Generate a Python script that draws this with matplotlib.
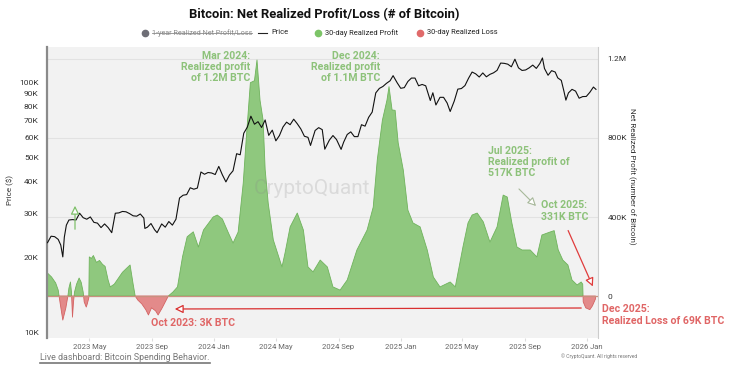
import matplotlib
matplotlib.use("Agg")
import matplotlib.pyplot as plt
import numpy as np
import pandas as pd

plt.rcParams['font.family'] = ['Roboto', 'DejaVu Sans']

# ---------------- DATA ----------------
price_dates = [
 "2023-02-08","2023-02-15","2023-02-22","2023-03-01","2023-03-06","2023-03-10","2023-03-13","2023-03-17",
 "2023-03-22","2023-03-29","2023-04-05","2023-04-12","2023-04-19","2023-04-26","2023-05-03","2023-05-10",
 "2023-05-17","2023-05-24","2023-05-31","2023-06-07","2023-06-14","2023-06-21","2023-06-28","2023-07-05",
 "2023-07-12","2023-07-19","2023-07-26","2023-08-02","2023-08-09","2023-08-16","2023-08-18","2023-08-23",
 "2023-08-30","2023-09-06","2023-09-11","2023-09-20","2023-09-27","2023-10-04","2023-10-11","2023-10-18",
 "2023-10-25","2023-11-01","2023-11-08","2023-11-15","2023-11-22","2023-11-29","2023-12-06","2023-12-13",
 "2023-12-20","2023-12-27","2024-01-03","2024-01-10","2024-01-17","2024-01-24","2024-01-31","2024-02-07",
 "2024-02-14","2024-02-21","2024-02-28","2024-03-06","2024-03-13","2024-03-20","2024-03-27","2024-04-03",
 "2024-04-10","2024-04-17","2024-04-24","2024-05-01","2024-05-08","2024-05-15","2024-05-22","2024-05-29",
 "2024-06-05","2024-06-12","2024-06-19","2024-06-26","2024-07-03","2024-07-08","2024-07-17","2024-07-24",
 "2024-07-31","2024-08-05","2024-08-14","2024-08-21","2024-08-28","2024-09-06","2024-09-11","2024-09-18",
 "2024-09-25","2024-10-02","2024-10-09","2024-10-16","2024-10-23","2024-10-30","2024-11-06","2024-11-13",
 "2024-11-20","2024-11-27","2024-12-04","2024-12-11","2024-12-17","2024-12-25","2025-01-01","2025-01-08",
 "2025-01-15","2025-01-22","2025-01-29","2025-02-05","2025-02-12","2025-02-19","2025-02-28","2025-03-05",
 "2025-03-11","2025-03-19","2025-03-26","2025-04-02","2025-04-08","2025-04-16","2025-04-23","2025-04-30",
 "2025-05-07","2025-05-14","2025-05-21","2025-05-28","2025-06-04","2025-06-11","2025-06-18","2025-06-25",
 "2025-07-02","2025-07-09","2025-07-16","2025-07-23","2025-07-30","2025-08-06","2025-08-13","2025-08-20",
 "2025-08-27","2025-09-03","2025-09-10","2025-09-17","2025-09-24","2025-10-01","2025-10-06","2025-10-10",
 "2025-10-17","2025-10-24","2025-10-31","2025-11-05","2025-11-12","2025-11-17","2025-11-21","2025-11-26",
 "2025-12-03","2025-12-10","2025-12-17","2025-12-24","2025-12-31","2026-01-07","2026-01-14","2026-01-19",
]
price_values = [  # USD
 22900,24300,24200,23600,22400,20100,24100,26900,
 28200,28300,28200,30000,28800,28400,29000,27600,
 27400,26300,27200,26300,25100,30000,30100,30500,
 30400,29900,29300,29200,29800,28700,26100,26400,
 27300,25800,25100,27200,26400,27800,26900,28400,
 34500,35400,35600,37900,37400,37800,43800,42900,
 43600,43400,42800,46100,42700,40000,42600,44300,
 51800,51300,62500,66100,73100,67900,69500,65900,
 70600,61300,64300,58300,61200,66200,69200,67600,
 71100,68200,65000,60800,60200,55900,64100,65800,
 64600,54000,58700,61200,59000,53900,57600,61800,
 63300,60600,60600,67600,66700,72300,75900,90500,
 94300,96000,98800,101100,106000,99300,94400,95000,
 100500,103700,103700,96600,97800,96600,84400,90600,
 81000,86900,86900,82500,76300,84000,93700,94200,
 96800,103500,109600,107800,104700,108700,104900,107300,
 108800,111300,119000,118700,117800,115000,123300,113900,
 111200,111700,113900,116800,113300,118600,124700,113200,
 106400,111000,109600,103900,101500,92200,84700,90500,
 93500,92000,86200,87500,87600,91000,95500,93500,
]

net_dates = [
 "2023-02-08","2023-02-16","2023-02-24","2023-03-01","2023-03-05","2023-03-10","2023-03-16","2023-03-20",
 "2023-03-22","2023-03-25","2023-03-27","2023-03-29","2023-03-31","2023-04-02","2023-04-06","2023-04-11",
 "2023-04-15","2023-04-19","2023-04-21","2023-04-25","2023-04-27","2023-04-30","2023-05-01","2023-05-05",
 "2023-05-09","2023-05-15","2023-05-21","2023-05-27","2023-06-01","2023-06-07","2023-06-11","2023-06-19",
 "2023-06-27","2023-07-05","2023-07-13","2023-07-20","2023-07-26","2023-07-30","2023-08-04","2023-08-12",
 "2023-08-20","2023-08-25","2023-08-31","2023-09-08","2023-09-13","2023-09-21","2023-09-29","2023-10-03",
 "2023-10-12","2023-10-21","2023-10-31","2023-11-09","2023-11-21","2023-12-01","2023-12-11","2023-12-30",
 "2024-01-07","2024-01-17","2024-01-29","2024-02-07","2024-02-17","2024-02-27","2024-03-04","2024-03-12",
 "2024-03-20","2024-03-25","2024-03-31","2024-04-06","2024-04-10","2024-04-16","2024-04-26","2024-05-13",
 "2024-05-19","2024-05-29","2024-06-12","2024-06-24","2024-07-03","2024-07-13","2024-07-27","2024-08-10",
 "2024-08-21","2024-09-04","2024-09-18","2024-10-07","2024-10-27","2024-11-08","2024-11-16","2024-11-26",
 "2024-12-05","2024-12-09","2024-12-15","2024-12-21","2024-12-27","2025-01-06","2025-01-15","2025-01-25",
 "2025-02-08","2025-02-22","2025-03-06","2025-03-19","2025-04-08","2025-04-18","2025-05-03","2025-05-13",
 "2025-05-21","2025-05-31","2025-06-12","2025-06-25","2025-07-09","2025-07-21","2025-07-29","2025-08-07",
 "2025-08-17","2025-08-27","2025-09-12","2025-09-25","2025-10-05","2025-10-21","2025-10-29","2025-11-06",
 "2025-11-15","2025-11-25","2025-12-03","2025-12-13","2025-12-21","2025-12-24","2025-12-25","2025-12-30",
 "2026-01-07","2026-01-12","2026-01-18",
]
net_values = [  # BTC, 30-day net realized profit (+) / loss (-)
 116000,96000,66000,30000,-40000,-122000,-60000,0,
 40000,71000,20000,-107000,-30000,20000,60000,91000,
 70000,20000,-30000,-56000,-40000,-10000,198000,190000,
 205000,170000,180000,160000,150000,80000,46000,60000,
 90000,120000,140000,157000,60000,0,-20000,-40000,
 -70000,-96000,-60000,-75000,-96000,-60000,-20000,0,
 20000,46000,200000,300000,325000,248000,334000,400000,
 410000,390000,319000,268000,324000,572000,800000,1080000,
 1090000,1195000,990000,890000,640000,470000,284000,147000,
 218000,350000,420000,334000,147000,122000,182000,147000,
 46000,30000,81000,233000,334000,450000,690000,890000,
 992000,1060000,942000,940000,775000,638000,435000,370000,
 350000,233000,96000,46000,71000,46000,248000,370000,
 410000,420000,375000,273000,350000,511000,501000,370000,
 248000,233000,233000,198000,309000,324000,331000,233000,
 182000,157000,81000,56000,71000,60000,-30000,-60000,
 -69000,-50000,-15000,
]

left_ticks = [10000, 20000, 30000, 40000, 50000, 60000, 70000, 80000, 90000, 100000]
left_labels = ["10K", "20K", "30K", "40K", "50K", "60K", "70K", "80K", "90K", "100K"]
right_ticks = [0, 400000, 800000, 1200000]
right_labels = ["0", "400K", "800K", "1.2M"]
x_ticks = ["2023-05-01","2023-09-01","2024-01-01","2024-05-01","2024-09-01",
           "2025-01-01","2025-05-01","2025-09-01","2026-01-01"]
x_labels = ["2023 May","2023 Sep","2024 Jan","2024 May","2024 Sep",
            "2025 Jan","2025 May","2025 Sep","2026 Jan"]

# ---------------- FIGURE ----------------
W, H = 745, 371
fig = plt.figure(figsize=(W/100, H/100), dpi=100)
fig.patch.set_facecolor("white")

L, R, T, B = 47, 598, 47, 338
rect = [L/W, (H-B)/H, (R-L)/W, (B-T)/H]
ax2 = fig.add_axes(rect)              # net realized profit/loss (right axis)
ax = fig.add_axes(rect, sharex=ax2)   # price (left axis, log)
ax.set_zorder(ax2.get_zorder() + 1)
ax.patch.set_visible(False)

pdates = pd.to_datetime(price_dates)
ndates = pd.to_datetime(net_dates)
nvals = np.array(net_values, dtype=float)

ax2.set_facecolor("#f2f2f2")
ax2.fill_between(ndates, 0, nvals, where=nvals >= 0, interpolate=True,
                 facecolor="#8fc87e", edgecolor="#6fb35c", linewidth=0.6, zorder=2)
ax2.fill_between(ndates, 0, nvals, where=nvals <= 0, interpolate=True,
                 facecolor="#e38a8a", edgecolor="#d46262", linewidth=0.6, zorder=2)
ax2.axhline(0, color="#c9907f", lw=0.9, zorder=3)
ax2.set_ylim(-212600, 1260700)
ax2.set_yticks(right_ticks)
ax2.set_yticklabels(right_labels)
ax2.yaxis.tick_right()
ax2.grid(axis="y", color="#e2e2e2", lw=0.8, zorder=0)
ax2.set_axisbelow(True)
ax2.tick_params(axis="y", length=0, pad=7, labelsize=6, labelcolor="#333333")

ax.plot(pdates, price_values, color="#111111", lw=0.8, zorder=5)
ax.set_yscale("log")
ax.set_ylim(9550, 137900)
ax.set_yticks(left_ticks)
ax.set_yticklabels(left_labels)
ax.yaxis.set_minor_locator(matplotlib.ticker.NullLocator())
ax.tick_params(axis="y", length=0, pad=6, labelsize=6, labelcolor="#333333")

ax.set_xlim(pd.Timestamp("2023-02-07"), pd.Timestamp("2026-01-23"))
ax2.set_xticks(pd.to_datetime(x_ticks))
ax2.set_xticklabels(x_labels)
ax2.tick_params(axis="x", length=2, color="#dddddd", pad=2, labelsize=5.5, labelcolor="#666666")
ax.tick_params(axis="x", bottom=False, labelbottom=False)

for s in ["top", "bottom", "right", "left"]:
    ax.spines[s].set_visible(False)
    ax2.spines[s].set_visible(False)
ax.spines["left"].set_visible(True)
ax.spines["left"].set_color("#8a8a8a")
ax.spines["left"].set_linewidth(1.6)
ax2.spines["right"].set_visible(True)
ax2.spines["right"].set_color("#cccccc")
ax2.spines["right"].set_linewidth(0.8)

# ---------------- OVERLAY (pixel coordinates) ----------------
ov = fig.add_axes([0, 0, 1, 1], zorder=20)
ov.set_xlim(0, W)
ov.set_ylim(H, 0)
ov.axis("off")
ov.patch.set_alpha(0)

ov.text(324, 15, "Bitcoin: Net Realized Profit/Loss (# of Bitcoin)", ha="center", va="center",
        fontsize=9.4, fontweight="bold", color="#111111")

# legend
lg_y = 33
ov.plot([145], [lg_y], "o", ms=4.5, color="#6e6e76")
t1 = ov.text(152, lg_y, "1-year Realized Net Profit/Loss", ha="left", va="center",
             fontsize=5.2, color="#8a8a8a")
ov.plot([258, 267], [lg_y, lg_y], color="#222222", lw=0.8)
ov.text(271, lg_y, "Price", ha="left", va="center", fontsize=5.4, color="#222222")
ov.plot([318], [lg_y], "o", ms=4.5, color="#7cc467")
ov.text(325, lg_y, "30-day Realized Profit", ha="left", va="center", fontsize=5.4, color="#222222")
ov.plot([420], [lg_y], "o", ms=4.5, color="#e06a6a")
ov.text(427, lg_y, "30-day Realized Loss", ha="left", va="center", fontsize=5.4, color="#222222")

# axis titles
ov.text(10, 190, "Price ($)", rotation=90, ha="center", va="center", fontsize=5.8, color="#333333")
ov.text(632, 176, "Net Realized Profit (number of Bitcoin)", rotation=-90, ha="center", va="center",
        fontsize=5.8, color="#333333")

# watermark
ov.text(312, 188, "CryptoQuant", ha="center", va="center", fontsize=15, color="#888888", alpha=0.22)

GREEN = "#8dc27a"
RED = "#e06666"
fs_ann = 7.6
ov.text(250, 67, "Mar 2024:\nRealized profit\nof 1.2M BTC", ha="right", va="center",
        fontsize=fs_ann, fontweight="bold", color=GREEN, linespacing=1.15)
ov.text(380, 67, "Dec 2024:\nRealized profit\nof 1.1M BTC", ha="right", va="center",
        fontsize=fs_ann, fontweight="bold", color=GREEN, linespacing=1.15)
ov.text(488, 162, "Jul 2025:\nRealized profit of\n517K BTC", ha="left", va="center",
        fontsize=fs_ann, fontweight="bold", color=GREEN, linespacing=1.15)
ov.text(541, 211, "Oct 2025:\n331K BTC", ha="left", va="center",
        fontsize=fs_ann, fontweight="bold", color=GREEN, linespacing=1.15)
ov.text(151, 323, "Oct 2023: 3K BTC", ha="left", va="center",
        fontsize=fs_ann, fontweight="bold", color=RED)
ov.text(602, 315, "Dec 2025:\nRealized Loss of 69K BTC", ha="left", va="center",
        fontsize=fs_ann, fontweight="bold", color=RED, linespacing=1.15)

# arrows
ov.annotate("", xy=(538, 208), xytext=(517, 187),
            arrowprops=dict(arrowstyle="-|>,head_length=0.5,head_width=0.25", color="#a7b89a",
                            lw=0.8, fc="white"))
ov.annotate("", xy=(594, 289), xytext=(567, 228),
            arrowprops=dict(arrowstyle="-|>,head_length=0.5,head_width=0.25", color="#e03c3c",
                            lw=0.9, fc="white"))
ov.annotate("", xy=(172, 309), xytext=(584, 308),
            arrowprops=dict(arrowstyle="-|>,head_length=0.5,head_width=0.25", color="#d93030",
                            lw=0.9, fc="white"))
ov.annotate("", xy=(75, 203), xytext=(75, 232),
            arrowprops=dict(arrowstyle="-|>,head_length=0.5,head_width=0.25", color="#7fc06b",
                            lw=0.9, fc="white"))

# footer
t2 = ov.text(40, 358, "Live dashboard: Bitcoin Spending Behavior.", ha="left", va="center",
             fontsize=6.4, color="#777777")
ov.text(637, 356, "\u00a9 CryptoQuant. All rights reserved", ha="right", va="center",
        fontsize=3.6, color="#777777")

# strikethrough / underline
fig.canvas.draw()
r = fig.canvas.get_renderer()
inv = ov.transData.inverted()
bb = t1.get_window_extent(r)
(x0, y0), (x1, y1) = inv.transform([(bb.x0, bb.y0), (bb.x1, bb.y1)])
ov.plot([x0, x1], [(y0 + y1) / 2, (y0 + y1) / 2], color="#8a8a8a", lw=0.6)
bb = t2.get_window_extent(r)
(x0, y0), (x1, y1) = inv.transform([(bb.x0, bb.y0), (bb.x1, bb.y1)])
ov.plot([x0, x1], [y0 + 0.5, y0 + 0.5], color="#777777", lw=1.2)

fig.savefig("out.png", dpi=100, facecolor="white")
